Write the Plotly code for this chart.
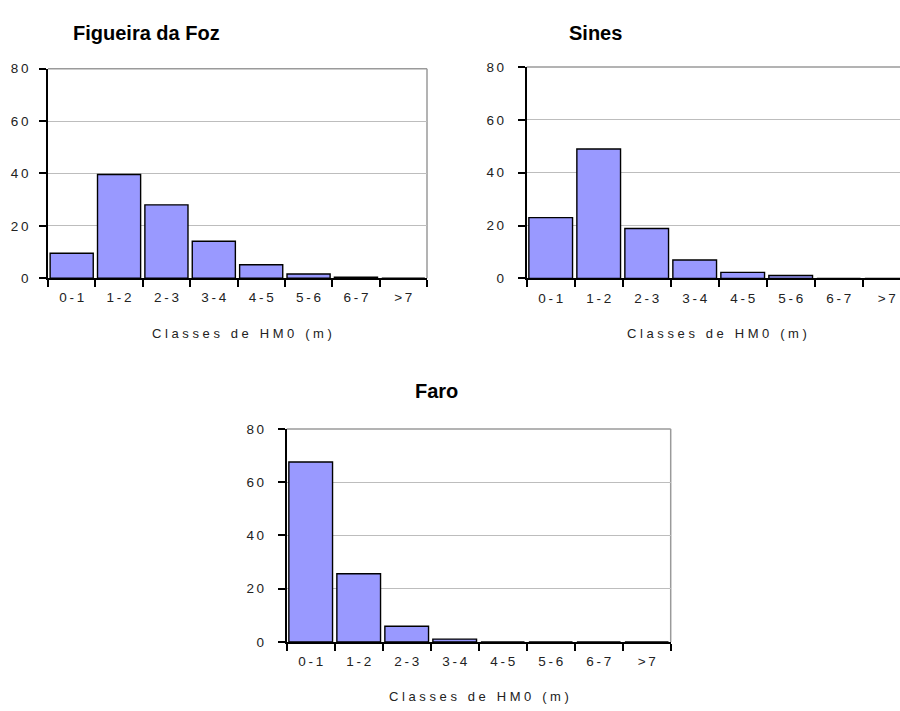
import plotly.graph_objects as go

# Significant wave height classes (m) and frequency of occurrence (%)
classes = ["0-1", "1-2", "2-3", "3-4", "4-5", "5-6", "6-7", ">7"]
figueira = [9.5, 39.6, 28.0, 14.1, 5.1, 1.6, 0.4, 0.0]
sines = [23.0, 49.0, 18.9, 7.0, 2.3, 1.1, 0.0, 0.0]
faro = [67.6, 25.6, 5.9, 1.1, 0.0, 0.0, 0.0, 0.0]
y_ticks = [0, 20, 40, 60, 80]

W, H = 900, 711
THIN = "\u2009"
NBSP = "\u00a0"
FONT = "Liberation Sans, Arial, sans-serif"


def spaced(s, sep):
    return sep.join(ch if ch != " " else NBSP for ch in s)


def px_x(x):
    return x / W


def px_y(y):
    return 1 - y / H


# panel geometry in pixels: (left, right, top, bottom)
panels = [
    dict(name="Figueira da Foz", data=figueira, box=(48, 427, 63, 277), full=True),
    dict(name="Sines", data=sines, box=(526.7, 900, 61.3, 277.3), full=False),
    dict(name="Faro", data=faro, box=(286.7, 670.7, 431, 648.7), full=True),
]

fig = go.Figure()
layout = dict(
    width=W, height=H,
    margin=dict(l=0, r=0, t=0, b=0),
    paper_bgcolor="white", plot_bgcolor="white",
    showlegend=False,
    bargap=0.09,
    font=dict(family=FONT, color="#222222"),
)
annotations = []
shapes = []

tick_text = [spaced(c, THIN) for c in classes]
y_text = [spaced(str(v), THIN) for v in y_ticks]

for i, p in enumerate(panels, start=1):
    xa = "x" if i == 1 else f"x{i}"
    ya = "y" if i == 1 else f"y{i}"
    left, right, top, bottom = p["box"]
    cat_w = 48 if i != 1 else (right - left) / 8
    x_end = -0.5 + (right - left) / cat_w

    fig.add_trace(go.Bar(
        x=classes, y=p["data"], xaxis=xa, yaxis=ya,
        marker=dict(color="#9999FF", line=dict(color="black", width=1.4)),
        hoverinfo="x+y",
    ))

    layout["xaxis" if i == 1 else f"xaxis{i}"] = dict(
        domain=[px_x(left), px_x(right)],
        anchor=ya,
        type="category",
        range=[-0.5, x_end],
        tickmode="array", tickvals=classes, ticktext=tick_text,
        tickson="boundaries",
        ticks="outside", ticklen=7, tickwidth=1.5, tickcolor="black",
        showline=True, linecolor="black", linewidth=1.8,
        showgrid=False, zeroline=False,
        tickfont=dict(size=13.5, color="#222222"),
        ticklabelstandoff=6,
        fixedrange=True,
    )
    layout["yaxis" if i == 1 else f"yaxis{i}"] = dict(
        domain=[px_y(bottom), px_y(top)],
        anchor=xa,
        range=[0, 80],
        tickmode="array", tickvals=y_ticks, ticktext=y_text,
        ticks="outside", ticklen=7, tickwidth=1.5, tickcolor="black",
        showline=True, linecolor="black", linewidth=1.8,
        showgrid=True, gridcolor="#BDBDBD", gridwidth=1,
        zeroline=False,
        tickfont=dict(size=13.5, color="#222222"),
        ticklabelstandoff=8 if i == 1 else 11,
        fixedrange=True,
    )

    # grey frame on top (and right where the panel ends inside the page)
    shapes.append(dict(type="line", xref=f"{xa} domain", yref=f"{ya} domain",
                       x0=0, x1=1, y0=1, y1=1,
                       line=dict(color="#9A9A9A", width=1.5), layer="below"))
    if p["full"]:
        shapes.append(dict(type="line", xref=f"{xa} domain", yref=f"{ya} domain",
                           x0=1, x1=1, y0=0, y1=1,
                           line=dict(color="#9A9A9A", width=1.5), layer="below"))

# panel titles
annotations += [
    dict(text="<b>Figueira da Foz</b>", x=px_x(146), y=px_y(27)),
    dict(text="<b>Sines</b>", x=px_x(595), y=px_y(27)),
    dict(text="<b>Faro</b>", x=px_x(436), y=px_y(392)),
]
for a in annotations:
    a.update(xref="paper", yref="paper", showarrow=False,
             xanchor="center", yanchor="middle",
             font=dict(size=20, color="black", family=FONT))

axis_title = spaced("Classes de HM0 (m)", NBSP)
for cx, cy in [(242, 334), (716.7, 334), (479, 704)]:
    annotations.append(dict(
        text=axis_title, x=px_x(cx), y=px_y(cy), xref="paper", yref="paper",
        showarrow=False, xanchor="center", yanchor="middle",
        font=dict(size=13, color="#222222", family=FONT),
    ))

layout["annotations"] = annotations
layout["shapes"] = shapes
fig.update_layout(**layout)

fig.write_html("out.html")
